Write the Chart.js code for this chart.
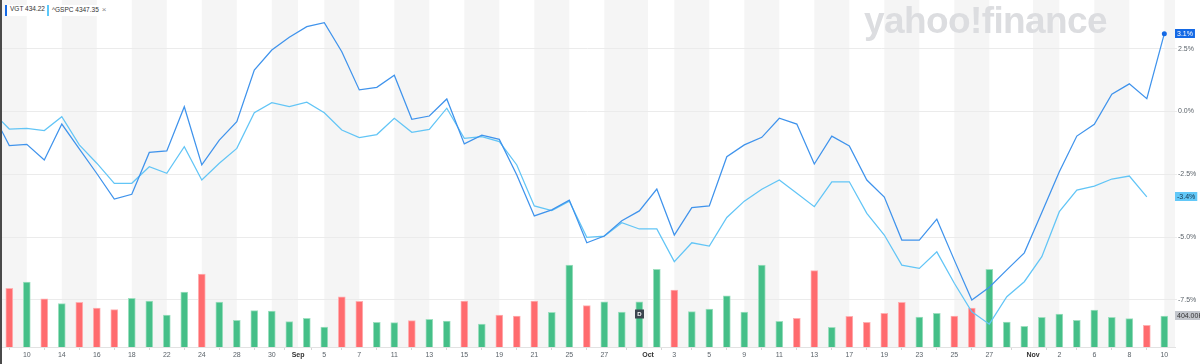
<!DOCTYPE html>
<html>
<head>
<meta charset="utf-8">
<script src="https://cdn.jsdelivr.net/npm/chart.js@4.4.0/dist/chart.umd.min.js"></script>
<style>
  html, body { margin: 0; padding: 0; background: #fff; }
  #wrap { position: relative; width: 1200px; height: 364px; overflow: hidden; }
  #wrap canvas { position: absolute; left: 0; top: 0; }
  .chip { position: absolute; top: 5px; height: 11px; line-height: 11px; background: #fff;
          font: 6.5px 'Liberation Sans', Arial, sans-serif; color: #333; padding: 0 3px 0 3px;
          border-left: 2px solid; white-space: nowrap; }
  .chip .x { color: #888; margin-left: 3px; font-size: 8px; }
  #logo { position: absolute; left: 864px; top: 2px; font: bold 37px 'Liberation Sans', Arial, sans-serif;
          color: #dcdde0; letter-spacing: -0.6px; line-height: 37px; }
</style>
</head>
<body>
<div id="wrap">
  <canvas id="chart" width="1200" height="364"></canvas>
  <div id="logo">yahoo!finance</div>
  <div class="chip" id="chipA" style="left:5px;border-color:#1469e5"></div>
  <div class="chip" id="chipB" style="left:47px;border-color:#5bc8fa"></div>
</div>
<script>
// 거래일 (첫 날 8/8 은 기준점, 화면 밖)
const dates = ['08-08','08-09','08-10','08-11','08-14','08-15','08-16','08-17','08-18','08-21','08-22','08-23','08-24','08-25','08-28','08-29','08-30','08-31',
  '09-01','09-05','09-06','09-07','09-08','09-11','09-12','09-13','09-14','09-15','09-18','09-19','09-20','09-21','09-22','09-25','09-26','09-27','09-28','09-29',
  '10-02','10-03','10-04','10-05','10-06','10-09','10-10','10-11','10-12','10-13','10-16','10-17','10-18','10-19','10-20','10-23','10-24','10-25','10-26','10-27','10-30','10-31',
  '11-01','11-02','11-03','11-06','11-07','11-08','11-09','11-10'];

// 수익률 (%)
const vgt = [0, -1.36,-1.31,-1.93,-0.50,-1.49,-2.47,-3.49,-3.30,-1.63,-1.57,0.19,-2.13,-1.14,-0.41,1.65,2.45,2.96,3.38,3.54,2.38,0.86,0.96,1.44,
  -0.31,-0.18,0.50,-1.29,-0.94,-1.11,-2.53,-4.16,-3.92,-3.53,-5.23,-4.96,-4.35,-3.96,-3.09,-4.92,-3.83,-3.76,-1.80,-1.33,-1.03,-0.27,-0.50,
  -2.09,-0.98,-1.37,-2.73,-3.41,-5.12,-5.12,-4.29,-5.92,-7.51,-7.00,-6.31,-5.63,-4.02,-2.40,-0.98,-0.51,0.69,1.10,0.51,3.1];
const gspc = [0, -0.70,-0.67,-0.76,-0.21,-1.33,-2.06,-2.86,-2.86,-2.20,-2.46,-1.40,-2.73,-2.06,-1.47,-0.05,0.35,0.19,0.37,-0.05,-0.74,-1.04,-0.92,-0.27,
  -0.83,-0.71,0.13,-1.07,-1.00,-1.20,-2.13,-3.76,-3.95,-3.57,-5.01,-4.96,-4.43,-4.68,-4.68,-5.98,-5.23,-5.36,-4.22,-3.57,-3.10,-2.73,-3.26,
  -3.79,-2.80,-2.80,-4.06,-4.92,-6.12,-6.25,-5.59,-6.84,-7.98,-8.47,-7.38,-6.78,-5.78,-3.99,-3.13,-2.97,-2.69,-2.57,-3.4];

// 거래량 (K), 상승=1 / 하락=0
const volume = [null, 765,847,629,564,582,508,486,635,599,417,717,951,586,348,473,469,330,374,261,652,595,322,317,
  343,361,339,599,300,417,404,599,452,1068,538,590,456,590,1012,743,460,495,665,456,1068,335,374,
  994,257,400,322,439,582,391,439,404,508,1012,326,270,387,430,348,482,387,369,283,404];
const volUp = [null, 0,1,0,1,0,0,0,1,1,1,1,0,1,1,1,1,1,1,1,0,0,1,1,
  0,1,1,0,1,0,0,0,1,1,0,1,1,1,1,0,1,1,1,1,1,1,0,
  0,1,0,0,0,0,1,1,0,0,1,1,1,1,1,1,1,1,1,0,1];

const dividends = ['09-29'];
const quote = { VGT: '434.22', '^GSPC': '4347.35' };

// x축 눈금 (월 이름 = 월 경계)
const tickDates = ['08-10','08-14','08-16','08-18','08-22','08-24','08-28','08-30','Sep','09-05','09-07','09-11','09-13','09-15','09-19','09-21','09-25','09-27',
  'Oct','10-03','10-05','10-09','10-11','10-13','10-17','10-19','10-23','10-25','10-27','Nov','11-02','11-06','11-08','11-10'];
const pctTicks = [-7.5, -5, -2.5, 0, 2.5];

const MONTHS = { Sep: '09', Oct: '10', Nov: '11' };
const tickPos = tickDates.map(t => MONTHS[t]
  ? dates.findIndex(d => d.startsWith(MONTHS[t])) - 0.5
  : dates.indexOf(t));
const tickText = tickDates.map(t => MONTHS[t] ? t : String(parseInt(t.slice(3))));

document.getElementById('chipA').textContent = 'VGT ' + quote.VGT;
document.getElementById('chipB').innerHTML = '^GSPC ' + quote['^GSPC'] + '<span class="x">×</span>';

const C = {
  vgt: '#3f93ec', vgtTag: '#1469e5',
  gspc: '#62c5f6', gspcTag: '#62c8f8',
  up: '#45bf88', upEdge: '#9ee0c0',
  down: '#ff6b6e', downEdge: '#ffb0b2',
  band: '#f5f5f5', grid: '#ebebeb', tick: '#5b636a',
};
const FONT = "'Liberation Sans', Arial, sans-serif";
Chart.defaults.font.family = FONT;

// ── 배경 세로 띠 ──────────────────────────────────────
const bandPlugin = {
  id: 'bands',
  beforeDraw(chart) {
    const { ctx, chartArea: a, scales: { x } } = chart;
    const edges = [a.left, ...tickPos.map(p => x.getPixelForValue(p)), a.right];
    ctx.save();
    ctx.fillStyle = C.band;
    for (let k = 0; k < edges.length - 1; k += 2) {
      ctx.fillRect(edges[k], a.top, edges[k + 1] - edges[k], a.bottom - a.top);
    }
    ctx.restore();
  }
};

function tag(ctx, text, x, y, bg, fg) {
  ctx.font = '7px ' + FONT;
  const w = ctx.measureText(text).width + 4;
  ctx.fillStyle = bg;
  ctx.fillRect(x, Math.round(y - 4.5), w, 9);
  ctx.fillStyle = fg;
  ctx.textAlign = 'left';
  ctx.textBaseline = 'middle';
  ctx.fillText(text, x + 2, Math.round(y - 4.5) + 5);
}

// ── 현재값 태그, 배당 표시 ─────────────────────────────
const tagPlugin = {
  id: 'tags',
  afterDraw(chart) {
    const { ctx, chartArea: a, scales: { x, pct, vol } } = chart;
    ctx.save();
    const lv = vgt[vgt.length - 1], lg = gspc[gspc.length - 1], lvol = volume[volume.length - 1];
    tag(ctx, lv.toFixed(1) + '%', a.right, pct.getPixelForValue(lv), C.vgtTag, '#fff');
    tag(ctx, lg.toFixed(1) + '%', a.right, pct.getPixelForValue(lg), C.gspcTag, '#16324a');
    tag(ctx, lvol.toFixed(2) + 'K', a.right, vol.getPixelForValue(lvol), '#c3c6cc', '#333');

    dividends.forEach(d => {
      const px = x.getPixelForValue(dates.indexOf(d));
      const py = a.bottom - 33;
      ctx.fillStyle = '#3d4650';
      ctx.fillRect(Math.round(px - 4.5), py - 4.5, 9, 9);
      ctx.fillStyle = '#fff';
      ctx.font = 'bold 6px ' + FONT;
      ctx.textAlign = 'center';
      ctx.textBaseline = 'middle';
      ctx.fillText('D', px, py + 0.5);
    });

    ctx.fillStyle = '#4a4a4a';
    ctx.fillRect(0, 0, 2, chart.height);
    ctx.restore();
  }
};

const pts = arr => arr.map((v, i) => ({ x: i, y: v }));

new Chart(document.getElementById('chart'), {
  type: 'line',
  data: {
    datasets: [
      {
        label: 'VGT', data: pts(vgt), yAxisID: 'pct', order: 0,
        borderColor: C.vgt, borderWidth: 1.25, tension: 0,
        pointRadius: c => c.dataIndex === vgt.length - 1 ? 2.5 : 0,
        pointBackgroundColor: C.vgtTag, pointBorderWidth: 0,
      },
      {
        label: '^GSPC', data: pts(gspc), yAxisID: 'pct', order: 0,
        borderColor: C.gspc, borderWidth: 1.25, tension: 0, pointRadius: 0,
      },
      {
        type: 'bar', label: 'Volume', data: pts(volume), yAxisID: 'vol', order: 1,
        backgroundColor: volUp.map(u => u ? C.up : C.down),
        borderColor: volUp.map(u => u ? C.upEdge : C.downEdge),
        borderWidth: 1, barThickness: 7,
      }
    ]
  },
  options: {
    responsive: false,
    animation: false,
    layout: { padding: 0, autoPadding: false },
    plugins: { legend: { display: false }, tooltip: { enabled: false } },
    scales: {
      x: {
        type: 'linear', min: 0.469, max: 67.61, offset: false,
        afterBuildTicks: s => { s.ticks = tickPos.map(v => ({ value: v })); },
        afterFit: s => { s.height = 17; s.paddingLeft = 0; s.paddingRight = 0; },
        grid: { drawOnChartArea: false, tickLength: 3, color: '#d6d6d6' },
        border: { color: '#e2e2e2' },
        ticks: {
          autoSkip: false, maxRotation: 0, minRotation: 0, padding: 1,
          callback: (v, i) => tickText[i],
          color: c => MONTHS[tickText[c.index]] ? '#333' : C.tick,
          font: c => ({ size: 7, weight: MONTHS[tickText[c.index]] ? 'bold' : 'normal' }),
        }
      },
      pct: {
        type: 'linear', position: 'right', min: -9.38, max: 4.44,
        afterBuildTicks: s => { s.ticks = pctTicks.map(v => ({ value: v })); },
        afterFit: s => { s.width = 25; s.paddingTop = 0; s.paddingBottom = 0; },
        grid: { color: C.grid, tickLength: 2 },
        border: { display: false },
        ticks: { padding: 1, color: C.tick, font: { size: 7 }, callback: v => v.toFixed(1) + '%' }
      },
      vol: { type: 'linear', display: false, min: 0, max: 4520 }
    }
  },
  plugins: [bandPlugin, tagPlugin]
});
</script>
</body>
</html>
